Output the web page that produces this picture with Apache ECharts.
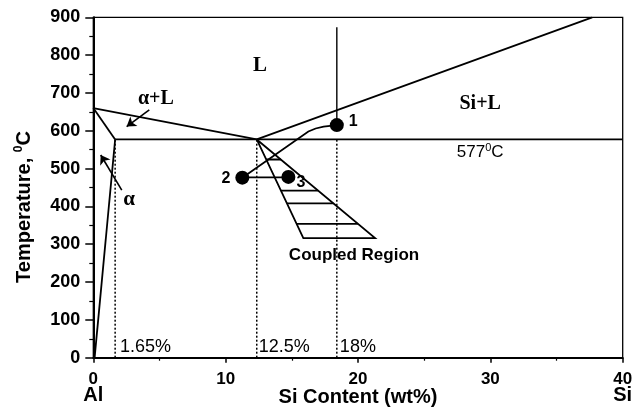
<!DOCTYPE html>
<html>
<head>
<meta charset="utf-8">
<script src="https://cdn.jsdelivr.net/npm/echarts@6/dist/echarts.min.js"></script>
<style>html,body{margin:0;padding:0;background:#fff;}#c{width:634px;height:410px;}</style>
</head>
<body>
<div id="c"></div>
<script>
// ---- data (Si wt%, temperature °C) ----
const xTicks = [0, 10, 20, 30, 40];
const yTicks = [0, 100, 200, 300, 400, 500, 600, 700, 800, 900];
const liquidusAl = [[0, 660], [12.35, 577]];
const solidus = [[0, 660], [1.65, 577]];
const solvus = [[1.65, 577], [0.1, 0]];
const eutectic = [[1.65, 577], [40, 577]];
const liquidusSi = [[12.35, 577], [37.7, 900]];
const vertical18 = [[18.4, 874], [18.4, 615]];
const dotted165 = [[1.65, 0], [1.65, 577]];
const dotted125 = [[12.35, 0], [12.35, 577]];
const dotted18 = [[18.4, 0], [18.4, 577]];
const coupledOutline = [[12.35, 577], [15.87, 316], [21.29, 316], [12.35, 577]];
const hatch1 = [[13.06, 524], [14.17, 524]];
const hatch2 = [[14.17, 442], [16.97, 442]];
const hatch3 = [[14.63, 408], [18.14, 408]];
const hatch4 = [[15.36, 354], [19.99, 354]];
const path21 = [[11.26, 476], [16.25, 598], [16.8, 606], [17.4, 611], [18.4, 615]];
const path23 = [[11.26, 477], [14.74, 477]];
const arrowAlphaL = [[4.23, 655], [2.52, 611]];
const arrowAlpha = [[2.15, 443], [0.56, 536]];
const points = [[18.4, 615], [11.26, 476], [14.74, 478]];
const pointNames = ['1', '2', '3'];

const SANS = 'Liberation Sans, Arial, sans-serif';
const SERIF = 'Liberation Serif, Times New Roman, serif';

const chart = echarts.init(document.getElementById('c'), null, {renderer: 'canvas'});

const seg = c => ({coords: c});

const option = {
  animation: false,
  backgroundColor: '#fff',
  grid: {left: 93.3, right: 11.3, top: 17.3, bottom: 52.3, containLabel: false, outerBoundsMode: 'none',
         show: true, borderColor: '#000', borderWidth: 1.3, backgroundColor: 'transparent'},
  xAxis: {
    type: 'value', min: xTicks[0], max: xTicks[xTicks.length - 1], interval: 10,
    name: 'Si Content (wt%)', nameLocation: 'middle', nameGap: 30, nameMoveOverlap: false,
    nameTextStyle: {fontFamily: SANS, fontWeight: 'bold', fontSize: 20, color: '#000'},
    axisLine: {show: true, onZero: false, lineStyle: {color: '#000', width: 2}},
    axisTick: {show: true, inside: false, length: 5, lineStyle: {color: '#000', width: 1.5}},
    minorTick: {show: true, splitNumber: 2, length: 3, lineStyle: {color: '#000', width: 1.2}},
    splitLine: {show: false},
    axisLabel: {
      margin: 15, color: '#000', fontFamily: SANS, fontWeight: 'bold',
      showMinLabel: true, showMaxLabel: true,
      formatter: function (v) {
        if (v === 0) return '{v|0}\n{n|Al}';
        if (v === 40) return '{v|40}\n{n|Si}';
        return '{v|' + v + '}';
      },
      rich: {
        v: {fontFamily: SANS, fontWeight: 'bold', fontSize: 17, lineHeight: 13, color: '#000'},
        n: {fontFamily: SANS, fontWeight: 'bold', fontSize: 20, lineHeight: 20, color: '#000'}
      }
    }
  },
  yAxis: {
    type: 'value', min: yTicks[0], max: yTicks[yTicks.length - 1], interval: 100,
    axisLine: {show: true, onZero: false, lineStyle: {color: '#000', width: 2}},
    axisTick: {show: true, inside: false, length: 8, lineStyle: {color: '#000', width: 1.5}},
    minorTick: {show: true, splitNumber: 2, length: 4, lineStyle: {color: '#000', width: 1.2}},
    splitLine: {show: false},
    axisLabel: {margin: 13, color: '#000', fontFamily: SANS, fontWeight: 'bold', fontSize: 18}
  },
  graphic: [{
    type: 'text', x: 24, y: 207, rotation: Math.PI / 2,
    style: {
      text: '{t|Temperature, }{s|0}{t|C}', align: 'center', verticalAlign: 'middle',
      rich: {
        t: {fontFamily: SANS, fontWeight: 'bold', fontSize: 20, fill: '#000', lineHeight: 22},
        s: {fontFamily: SANS, fontWeight: 'bold', fontSize: 12, fill: '#000', lineHeight: 22, verticalAlign: 'top'}
      }
    }
  }],
  series: [
    {
      type: 'lines', coordinateSystem: 'cartesian2d', polyline: true, silent: true,
      lineStyle: {color: '#000', width: 1.8, opacity: 1},
      data: [liquidusAl, solidus, solvus, eutectic, liquidusSi, coupledOutline,
             hatch1, hatch2, hatch3, hatch4, path21, path23].map(seg)
    },
    {
      type: 'lines', coordinateSystem: 'cartesian2d', polyline: true, silent: true,
      lineStyle: {color: '#000', width: 1.4, opacity: 1},
      data: [vertical18].map(seg)
    },
    {
      type: 'lines', coordinateSystem: 'cartesian2d', polyline: true, silent: true,
      lineStyle: {color: '#000', width: 1.5, type: [2, 2], opacity: 1},
      data: [dotted165, dotted125, dotted18].map(seg)
    },
    {
      type: 'lines', coordinateSystem: 'cartesian2d', silent: true,
      symbol: ['none', 'arrow'], symbolSize: 9,
      lineStyle: {color: '#000', width: 1.6, opacity: 1},
      itemStyle: {color: '#000', opacity: 1},
      data: [arrowAlphaL, arrowAlpha].map(seg)
    },
    {
      type: 'scatter', silent: true, symbol: 'circle', symbolSize: 14,
      itemStyle: {color: '#000', opacity: 1},
      label: {show: true, fontFamily: SANS, fontWeight: 'bold', fontSize: 16, color: '#000', opacity: 1},
      data: points.map((p, i) => {
        const lab = [
          {position: 'right', distance: 5, offset: [0, -3]},
          {position: 'left', distance: 5, offset: [0, 1]},
          {position: 'right', distance: 0, offset: [1, 6]}
        ][i];
        return {value: p, label: Object.assign({formatter: pointNames[i]}, lab)};
      })
    },
    {
      type: 'scatter', silent: true, symbolSize: 1, itemStyle: {color: '#000', opacity: 0},
      label: {show: true, position: 'inside', color: '#000', opacity: 1},
      data: [
        {value: [12.6, 772], label: {formatter: 'L', fontFamily: SERIF, fontWeight: 'bold', fontSize: 21}},
        {value: [4.73, 684], label: {formatter: 'α+L', fontFamily: SERIF, fontWeight: 'bold', fontSize: 20}},
        {value: [29.23, 672], label: {formatter: 'Si+L', fontFamily: SERIF, fontWeight: 'bold', fontSize: 20}},
        {value: [2.7, 419], label: {formatter: 'α', fontFamily: SERIF, fontWeight: 'bold', fontSize: 21}},
        {value: [29.23, 544], label: {formatter: '{n|577}{s|0}{n|C}', rich: {
          n: {fontFamily: SANS, fontSize: 17, color: '#000', lineHeight: 18},
          s: {fontFamily: SANS, fontSize: 11, color: '#000', lineHeight: 18, verticalAlign: 'top'}
        }}},
        {value: [2.02, 28], label: {formatter: '1.65%', align: 'left', fontFamily: SANS, fontSize: 18}},
        {value: [12.5, 28], label: {formatter: '12.5%', align: 'left', fontFamily: SANS, fontSize: 18}},
        {value: [18.63, 28], label: {formatter: '18%', align: 'left', fontFamily: SANS, fontSize: 18}},
        {value: [19.7, 272], label: {formatter: 'Coupled Region', fontFamily: SANS, fontWeight: 'bold', fontSize: 17}}
      ]
    }
  ]
};
chart.setOption(option);
</script>
</body>
</html>
